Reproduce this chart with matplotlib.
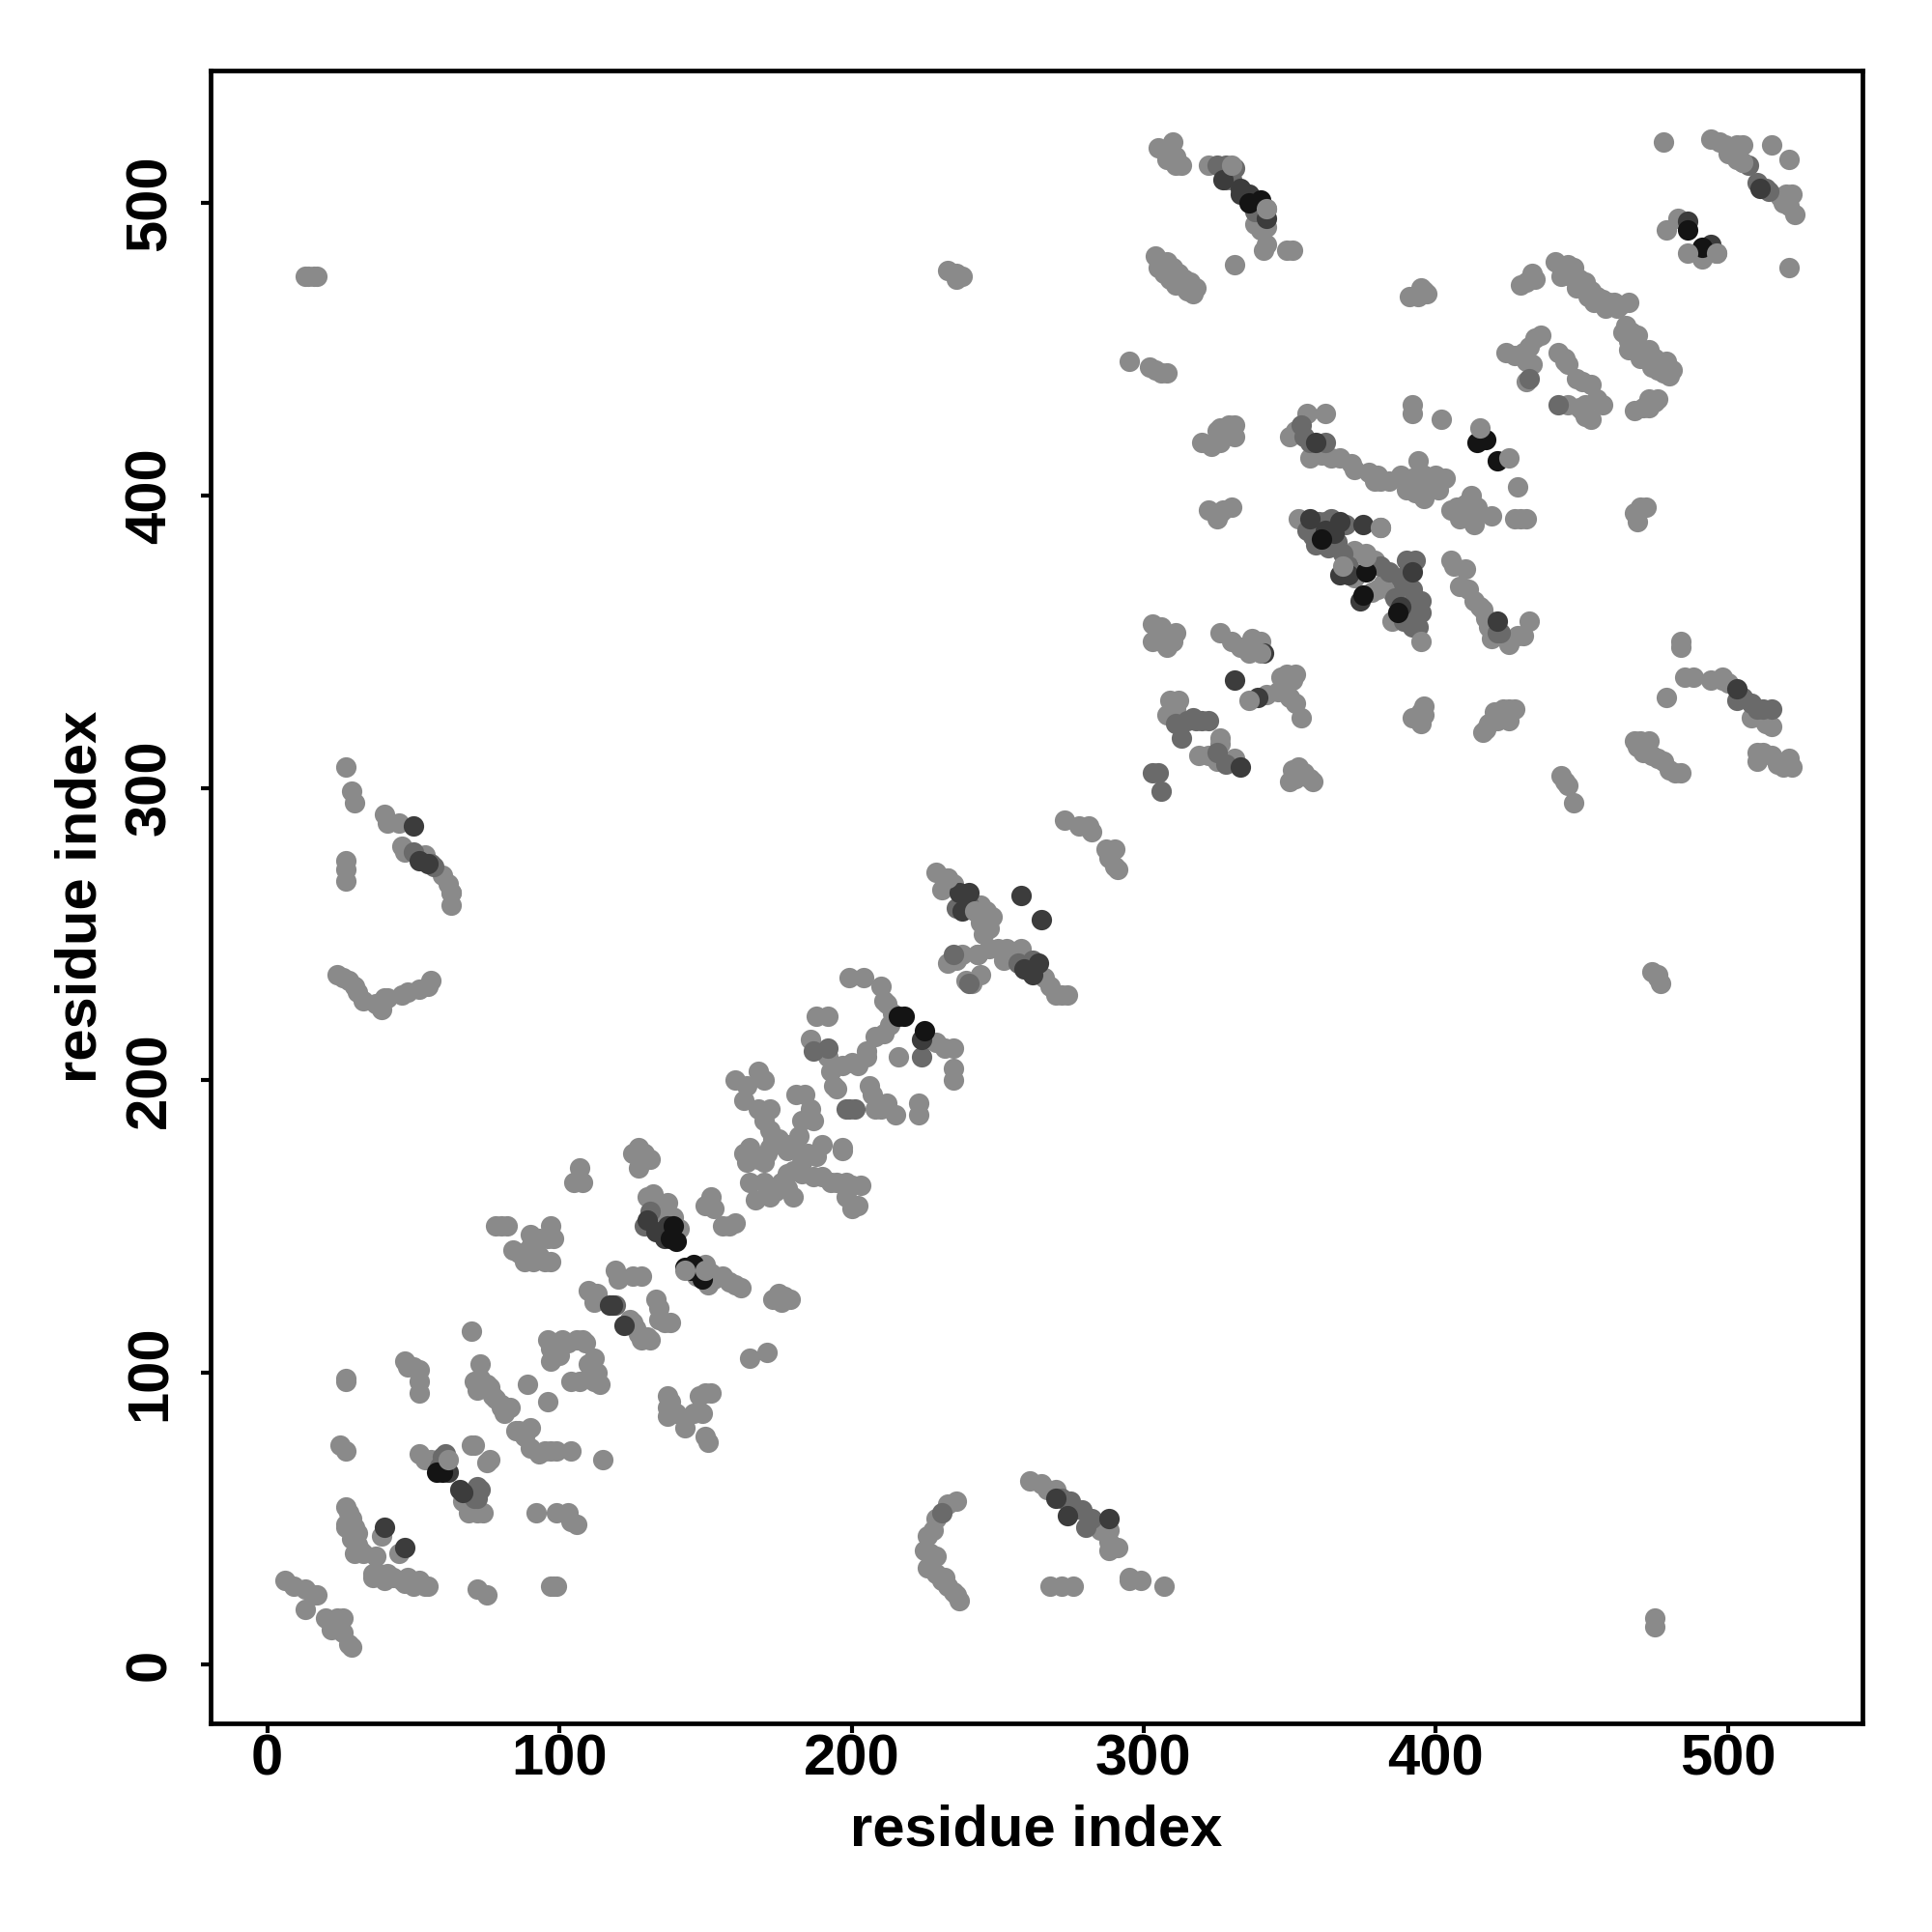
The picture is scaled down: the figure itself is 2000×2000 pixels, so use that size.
import matplotlib
matplotlib.use("Agg")
import matplotlib.pyplot as plt

light = [(6,29),(9,27),(13,26),(16,24),(17,24),(13,19),(20,16),(24,16),(26,16),(25,13),(22,12),(26,11),(28,7),(29,6),
(27,54),(28,52),(29,50),(27,48),(30,47),(31,45),(27,47),(29,43),(31,41),(32,39),(30,38),(33,38),(39,44),(37,37),(45,38),(36,31),(38,31),(36,30),(40,29),(41,31),(43,30),(46,29),(48,30),(47,28),(49,28),(50,27),(52,29),(54,27),(55,27),
(72,26),(75,24),(97,27),(98,27),(99,27),(92,52),(99,52),(103,52),(104,49),(106,48),
(52,72),(54,70),(56,70),(58,69),(70,54),(72,52),(69,52),(74,52),(67,56),(70,75),(71,75),(75,69),(76,70),
(27,98),(27,97),(25,75),(27,73),(50,102),(47,104),(48,102),(52,101),(52,97),(52,93),
(73,103),(71,97),(72,94),(73,98),(75,96),(76,95),(77,92),(70,114),(80,89),(81,86),(80,88),(83,88),(78,91),
(89,96),(96,90),(86,80),(85,80),(88,78),(90,81),(90,74),(93,72),(95,73),(97,73),(99,73),(104,73),(115,70),
(96,111),(97,108),(97,104),(100,106),(101,111),(103,110),(106,111),(108,111),(109,110),(104,97),(107,97),(110,103),(111,100),(112,105),(113,100),(112,97),(114,96),(98,110),
(110,128),(112,126),(112,124),(113,127),(119,135),(120,132),(125,133),(128,133),(124,118),(126,115),(125,117),(127,113),(130,112),(128,111),(131,111),(133,125),(134,122),(134,118),(136,117),(138,117),
(125,175),(127,177),(128,172),(127,170),(129,175),(131,173),(105,165),(108,165),(107,170),
(78,150),(80,150),(82,150),(84,142),(86,141),(88,138),(90,147),(90,143),(91,138),(93,146),(93,140),(95,138),(96,146),(97,150),(97,138),(98,146),
(130,160),(132,161),(133,158),(135,157),(137,158),(136,155),(139,153),(133,150),(135,150),(136,148),(141,149),
(147,133),(148,136),(150,137),(151,130),(153,132),(156,133),(158,131),(160,130),(162,129),(152,134),
(173,125),(175,127),(176,124),(177,126),(179,125),(165,105),(171,107),
(137,92),(137,88),(137,85),(138,90),(140,86),(143,81),(146,86),(148,92),(150,93),(152,93),(150,78),(151,76),(149,86),
(150,157),(152,160),(153,156),(156,150),(158,150),(160,151),(165,165),(167,159),
(160,200),(164,198),(168,203),(170,200),(163,193),(168,190),(172,190),(170,186),(172,183),(173,180),(172,177),(171,175),(170,172),(165,177),(163,175),(164,172),(168,173),(175,180),(178,176),(180,178),(182,181),(183,186),(187,186),(181,195),(184,195),(186,190),(190,178),(188,174),(183,172),(180,169),(178,168),(176,165),(174,162),(172,160),(170,165),(178,163),(180,160),(183,168),(187,167),(190,167),(193,165),(195,165),(198,165),(200,164),(203,164),(198,160),(200,156),(202,157),(197,176),(197,177),
(194,198),(195,197),(193,203),(197,205),(200,206),(202,205),(205,208),(205,210),(208,215),(211,216),(188,222),(192,222),(186,214),(192,208),(199,235),(204,235),(210,232),(211,227),(212,226),(214,223),(213,219),(226,214),(229,213),(232,211),(235,211),(216,208),(235,204),(235,200),(223,192),(223,188),(210,190),(215,188),(206,198),(207,195),(212,192),(208,190),(185,175),(178,178),
(229,271),(233,269),(231,265),(235,267),(242,258),(244,260),(246,258),(244,254),(245,250),(247,252),(248,256),(233,240),(236,241),(238,243),(239,234),(241,233),(244,236),(243,243),(247,245),(250,245),(253,245),(255,243),(266,235),(268,232),(270,229),(272,229),(274,229),(258,245),(252,241),
(273,289),(278,287),(281,287),(282,285),(287,279),(290,279),(288,276),(290,273),(291,272),(295,446),(302,444),(304,443),(306,442),(308,442),
(27,307),(29,299),(30,295),(40,291),(41,288),(45,288),(46,280),(47,278),(54,277),(60,270),(62,267),(63,264),(63,260),(27,275),(27,272),(27,268),(24,236),(26,235),(28,234),(30,232),(31,230),(33,227),(37,226),(39,224),(41,228),(40,228),(46,229),(48,230),(52,231),(55,232),(56,234),(14,475),(16,475),(13,475),(17,475),(233,477),(236,476),(236,474),(238,475),
(233,55),(236,56),(229,50),(228,46),(226,44),(225,39),(227,38),(229,37),(226,33),(229,31),(231,29),(233,27),(235,25),(236,24),(237,22),(232,30),
(261,63),(265,62),(267,60),(270,60),(276,53),(285,46),(288,46),(288,42),(288,39),(291,40),(295,30),(295,29),(299,29),(307,27),(268,27),(272,27),(276,27),(475,16),(475,13),(474,237),(476,236),(477,233),(476,235),
(303,356),(306,355),(303,350),(306,350),(310,350),(311,353),(308,348),(309,330),(312,330),(308,325),(311,327),
(319,311),(322,311),(326,317),(326,315),(325,309),(329,309),(331,310),(326,353),(330,350),(333,348),(336,346),(337,351),(340,350),(339,347),(342,332),(347,338),(349,339),(351,337),(352,339),(346,333),(350,331),(352,329),(354,324),
(351,306),(353,307),(350,302),(355,305),(357,303),(358,302),(352,303),(392,324),(395,322),(396,328),(395,326),(396,325),(416,319),(418,322),(417,320),(421,323),(423,327),(425,327),(427,327),(425,323),(420,326),(443,304),(444,302),(445,301),(447,295),
(468,316),(470,316),(473,316),(471,312),(474,311),(476,310),(478,309),(480,306),(482,305),(484,305),(469,314),(479,331),(484,350),(484,348),(485,338),(488,338),(494,337),(498,337),(500,336),(498,338),(508,324),(513,322),(515,321),
(510,312),(512,312),(510,309),(515,311),(517,308),(519,307),(521,310),(522,307),
(320,418),(323,417),(326,418),(326,423),(329,424),(331,424),(331,420),(325,422),(350,420),(356,428),(362,428),(352,422),(357,413),(361,414),(364,413),(367,413),(371,411),(372,409),(377,408),(380,407),(381,405),(384,405),(379,405),(322,395),(326,394),(325,392),(327,395),(330,396),
(353,392),(381,389),(372,381),(376,380),(379,378),(372,372),(378,367),(385,372),(382,370),(385,367),(385,357),(391,357),(380,368),
(405,378),(406,376),(410,375),(408,369),(411,368),(413,364),(415,362),(417,358),(418,355),(425,349),(428,352),(430,352),(432,357),(416,361),(419,351),
(388,407),(392,406),(394,412),(396,407),(400,407),(403,406),(390,402),(393,401),(396,399),(398,404),(401,402),(393,405),(405,395),(408,392),(410,397),(412,400),(414,396),(413,392),(413,390),(407,396),(419,393),(392,431),(392,428),(402,426),(428,403),(427,392),(429,392),(431,392),(468,394),(470,396),(472,396),(469,391),(391,468),(394,468),(396,470),(395,471),(397,469),
(304,482),(306,480),(308,480),(310,478),(312,476),(314,474),(316,473),(318,471),(317,469),(313,472),(305,519),(307,518),(310,521),(308,515),(311,513),(313,513),(311,516),(322,513),(342,498),(338,493),(342,492),(340,491),(342,486),(341,484),(331,479),(349,484),(351,484),
(429,472),(431,473),(433,476),(434,474),(441,480),(443,478),(445,479),(447,478),(449,474),(451,473),(450,471),(453,470),(455,468),(457,467),(459,466),(461,466),(463,465),(466,466),(465,458),(467,456),(469,455),(466,453),(468,452),(471,450),(473,450),(475,447),(477,445),(479,446),(481,443),(478,442),(476,443),(471,448),
(424,449),(427,448),(430,449),(432,451),(434,454),(436,455),(431,446),(433,445),(431,439),(442,449),(444,446),(444,447),(445,445),(448,440),(450,439),(453,438),(445,431),(449,430),(451,431),(455,433),(457,431),(451,427),(453,426),(450,429),(468,429),(471,430),(473,433),(475,432),(476,433),(473,430),
(478,521),(494,522),(497,521),(499,520),(503,520),(500,517),(503,515),(505,514),(502,518),(505,520),(515,520),(521,515),(518,502),(520,503),(522,503),(521,499),(523,496),(519,500),(521,478),(479,491),(483,495),(493,483),(491,481),(496,483),
(446,475),(448,471),(452,468),(454,466),(458,464),(462,464),(464,456),(466,450),(470,447),(474,444),(480,441),(443,475),(305,478),(307,476),(309,474),(311,472),(315,470)]

mid = [(60,71),(61,72),(59,68),(71,57),(72,57),(72,61),(73,60),(119,123),(129,150),(131,155),
(187,210),(192,211),(199,190),(201,190),(198,190),(224,208),(236,259),(240,260),(262,241),(257,240),(235,243),(240,233),
(56,274),(57,273),(50,278),(272,57),(275,56),(279,53),(282,50),(280,47),(231,52),
(311,322),(313,317),(315,323),(318,323),(322,323),(317,324),(320,323),(325,312),(328,308),(303,305),(305,305),(306,299),
(354,424),(355,420),(357,418),(362,418),(358,386),(369,390),(366,384),(390,378),(393,378),(390,362),(393,364),(395,364),(394,355),(395,360),(421,353),(422,353),
(503,330),(505,331),(508,329),(510,327),(512,327),(515,327),(510,507),(513,505),(514,504),(507,513),(442,431),(432,440),(330,508),(328,508),(325,513),(328,513),(331,512),(338,497),(360,391),(362,391),(364,392),
(356,388),(359,383),(363,382),(368,380),(370,376),(381,376),(384,374),(388,372),(386,365),(389,370),(389,357),(392,355),(393,361),(392,368),(360,387),(364,385)]

dark = [(40,47),(47,40),(62,66),(66,60),(67,59),(117,123),(118,123),(122,116),(130,152),(133,148),(136,146),(137,150),
(50,287),(52,275),(55,274),(237,264),(240,264),(238,258),(258,263),(265,255),(259,238),(264,240),(262,236),(288,50),(270,57),(274,51),
(224,214),(333,307),(341,346),(339,331),(331,337),(359,418),(357,392),(362,388),(365,387),(367,391),(375,390),(374,364),(367,373),(370,373),(392,374),(388,362),(421,357),(503,334),
(327,508),(333,505),(336,503),(333,503),(342,495),(486,494),(494,486),(511,505)]

black = [(60,66),(58,66),(139,150),(138,146),(140,145),(143,136),(145,135),(146,137),(149,132),(216,222),(218,222),(225,217),(361,385),(375,366),(387,360),(414,418),(417,419),(421,412),(340,501),(336,500),(486,491),(491,485),(376,374)]

top = [(63,264),(62,70),(143,135),(150,135),(242,258),(246,252),(243,243),(233,269),(342,498),(425,413),(415,423),(368,376),(376,379),(395,350),(330,513),(486,483),(496,483),(505,514),(396,407),(381,389),(340,346),(336,330)]

shades = [("#8a8a8a", light), ("#6a6a6a", mid), ("#3c3c3c", dark), ("#141414", black), ("#8a8a8a", top)]
x_ticks = [0, 100, 200, 300, 400, 500]
y_ticks = [0, 100, 200, 300, 400, 500]
axis_label = "residue index"

plt.rcParams["font.family"] = ["Liberation Sans", "DejaVu Sans"]
fig = plt.figure(figsize=(10, 10), dpi=200)
ax = fig.add_axes([0.109, 0.1078, 0.855, 0.8557])
for colour, pts in shades:
    ax.scatter([p[0] for p in pts], [p[1] for p in pts], s=58, c=colour, linewidths=0)
ax.set_xlim(-19.4, 546)
ax.set_ylim(-20.2, 545.4)
ax.set_xticks(x_ticks)
ax.set_yticks(y_ticks)
ax.set_xticklabels([str(t) for t in x_ticks], fontsize=21.5, fontweight="bold")
ax.set_yticklabels([str(t) for t in y_ticks], fontsize=21.5, fontweight="bold", rotation=90, va="center")
ax.tick_params(axis="x", length=3.5, width=1.5, pad=0)
ax.tick_params(axis="y", length=3.5, width=1.5, pad=9)
ax.set_xlabel(axis_label, fontsize=21.5, fontweight="bold", labelpad=6.5)
ax.set_ylabel(axis_label, fontsize=21.5, fontweight="bold", labelpad=6)
for s in ax.spines.values():
    s.set_linewidth(1.7)
fig.savefig("out.png", dpi=200)
